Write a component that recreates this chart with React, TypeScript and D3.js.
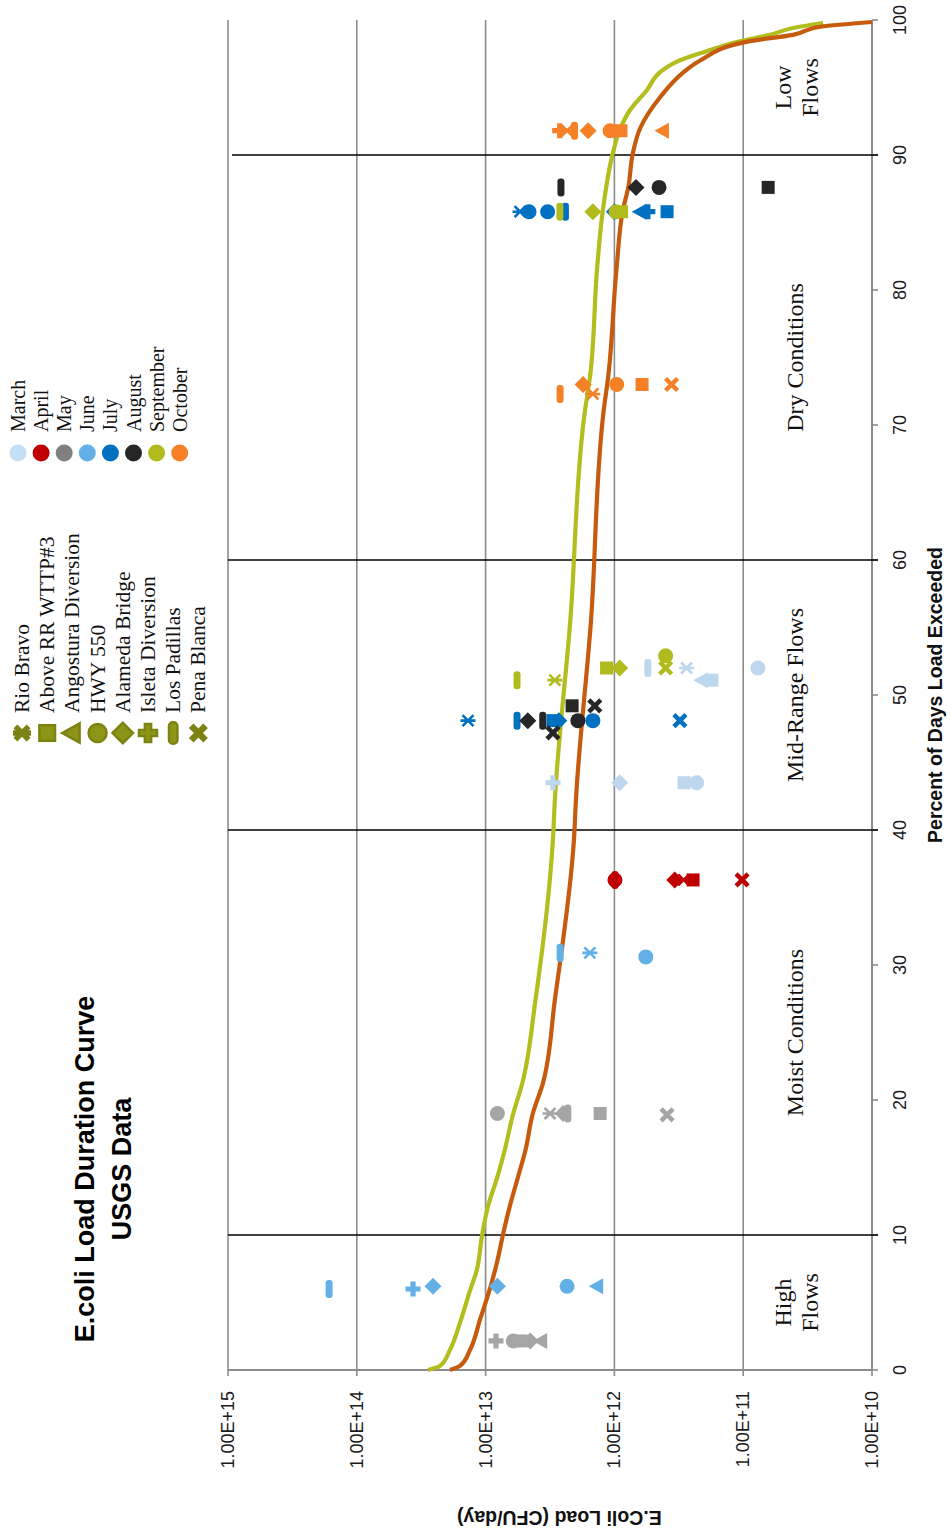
import React from "react";
import * as d3 from "d3";

// ---------- data ----------
const sites = ["Rio Bravo", "Above RR WTTP#3", "Angostura Diversion", "HWY 550", "Alameda Bridge", "Isleta Diversion", "Los Padillas", "Pena Blanca"];
const siteShapes = ["star", "square", "triangle", "circle", "diamond", "plus", "dash", "cross"];
const months = ["March", "April", "May", "June", "July", "August", "September", "October"];
const monthColors = ["#BDD7EE", "#C00000", "#A5A5A5", "#63B0E6", "#0070C0", "#262626", "#B2BB1E", "#F58025"];
const monthLegendColors = ["#C5DFF4", "#C00000", "#808080", "#63B0E6", "#0070C0", "#262626", "#B2BB1E", "#F58025"];

const loadTicks = [1e15, 1e14, 1e13, 1e12, 1e11, 1e10];
const loadTickLabels = ["1.00E+15", "1.00E+14", "1.00E+13", "1.00E+12", "1.00E+11", "1.00E+10"];
const pctTicks = [0, 10, 20, 30, 40, 50, 60, 70, 80, 90, 100];
const zoneBreaks = [10, 40, 60, 90];

// load duration curves (percent exceeded, load CFU/day)
const curveGreenPct = [0, 0.3, 1.5, 3.5, 5.9, 7.4, 9.85, 12.1, 14.3, 16.3, 19.0, 21.2, 27.4, 39.3, 42.2, 55.5, 71.1, 73.5, 81.7, 85.9, 90.1, 91.85, 93.3, 94.8, 96.15, 96.9, 97.6, 98.37, 98.9, 99.41, 99.78];
const curveGreenLoad = [2.8e13, 2.26e13, 1.89e13, 1.58e13, 1.32e13, 1.17e13, 1.07e13, 9.6e12, 8.1e12, 7.1e12, 6.1e12, 5.2e12, 4.1e12, 3.0e12, 2.9e12, 2.2e12, 1.69e12, 1.55e12, 1.36e12, 1.23e12, 1.03e12, 9.1e11, 7.6e11, 5.6e11, 4.4e11, 3.3e11, 2.05e11, 1.12e11, 6.2e10, 4.1e10, 2.4e10];
const curveOrangePct = [0, 0.3, 1.5, 3.8, 6.1, 8.1, 10.1, 12.1, 14.3, 16.3, 19.0, 21.2, 27.4, 39.3, 42.2, 55.5, 71.1, 73.5, 81.7, 85.9, 87.6, 90.1, 92.0, 94.3, 96.1, 97.0, 98.4, 98.9, 99.5, 99.85];
const curveOrangeLoad = [1.89e13, 1.58e13, 1.32e13, 1.1e13, 9.2e12, 8.1e12, 7.3e12, 6.5e12, 5.6e12, 4.9e12, 4.3e12, 3.6e12, 2.9e12, 2.06e12, 1.99e12, 1.52e12, 1.21e12, 1.12e12, 9.6e11, 8.6e11, 7.8e11, 7.2e11, 6.3e11, 4.4e11, 2.93e11, 2.16e11, 9.3e10, 4.1e10, 2.5e10, 1.0e10];

// samples: [site, percent of days exceeded, load]
type Sample = [string, number, number];
const marchSamples: Sample[] = [
  ["Isleta Diversion", 43.5, 3.0e12], ["Alameda Bridge", 43.5, 9.1e11], ["Above RR WTTP#3", 43.5, 2.88e11],
  ["Angostura Diversion", 43.5, 2.45e11], ["HWY 550", 43.5, 2.3e11],
  ["Los Padillas", 52.0, 5.5e11], ["Rio Bravo", 52.0, 2.75e11], ["Angostura Diversion", 51.1, 2.1e11],
  ["Above RR WTTP#3", 51.1, 1.75e11], ["HWY 550", 52.0, 7.7e10],
];
const aprilSamples: Sample[] = [
  ["HWY 550", 36.3, 9.9e11], ["Los Padillas", 36.3, 9.9e11], ["Alameda Bridge", 36.3, 3.4e11],
  ["Rio Bravo", 36.3, 2.9e11], ["Above RR WTTP#3", 36.3, 2.45e11], ["Pena Blanca", 36.3, 1.02e11],
];
const maySamples: Sample[] = [
  ["HWY 550", 19.0, 8.1e12], ["Rio Bravo", 19.0, 3.16e12], ["Alameda Bridge", 19.0, 2.5e12],
  ["Los Padillas", 19.0, 2.3e12], ["Above RR WTTP#3", 19.0, 1.29e12], ["Pena Blanca", 18.9, 3.9e11],
  ["Isleta Diversion", 2.15, 8.3e12], ["HWY 550", 2.15, 6.1e12], ["Above RR WTTP#3", 2.15, 5.3e12],
  ["Alameda Bridge", 2.15, 4.5e12], ["Angostura Diversion", 2.15, 3.7e12],
];
const juneSamples: Sample[] = [
  ["Los Padillas", 30.9, 2.64e12], ["Rio Bravo", 30.9, 1.55e12], ["HWY 550", 30.6, 5.7e11],
  ["Los Padillas", 6.0, 1.64e14], ["Isleta Diversion", 6.0, 3.66e13], ["Alameda Bridge", 6.2, 2.56e13],
  ["Alameda Bridge", 6.2, 8.1e12], ["HWY 550", 6.2, 2.33e12], ["Angostura Diversion", 6.2, 1.36e12],
];
const julySamples: Sample[] = [
  ["Rio Bravo", 85.8, 5.4e12], ["HWY 550", 85.8, 4.6e12], ["HWY 550", 85.8, 3.3e12],
  ["Los Padillas", 85.8, 2.4e12], ["Alameda Bridge", 85.8, 1.0e12], ["Angostura Diversion", 85.8, 6.3e11],
  ["Isleta Diversion", 85.8, 5.5e11], ["Above RR WTTP#3", 85.8, 3.9e11],
  ["Rio Bravo", 48.1, 1.37e13], ["Los Padillas", 48.1, 5.7e12], ["Alameda Bridge", 48.1, 2.7e12],
  ["Above RR WTTP#3", 48.1, 3.0e12], ["HWY 550", 48.1, 1.47e12], ["Pena Blanca", 48.1, 3.1e11],
];
const augustSamples: Sample[] = [
  ["Los Padillas", 87.6, 2.6e12], ["Alameda Bridge", 87.6, 6.8e11], ["HWY 550", 87.6, 4.5e11],
  ["Above RR WTTP#3", 87.6, 6.4e10],
  ["Alameda Bridge", 48.1, 4.7e12], ["Los Padillas", 48.1, 3.6e12], ["HWY 550", 48.1, 1.92e12],
  ["Above RR WTTP#3", 49.2, 2.13e12], ["Pena Blanca", 49.2, 1.42e12], ["Pena Blanca", 47.2, 3.0e12],
];
const septemberSamples: Sample[] = [
  ["Los Padillas", 85.8, 2.65e12], ["Alameda Bridge", 85.8, 1.47e12], ["HWY 550", 85.8, 9.7e11],
  ["Above RR WTTP#3", 85.8, 8.8e11],
  ["HWY 550", 52.9, 4.0e11], ["Above RR WTTP#3", 52.0, 1.15e12], ["Alameda Bridge", 52.0, 9.1e11],
  ["Pena Blanca", 52.0, 4.0e11], ["Los Padillas", 51.1, 5.7e12], ["Rio Bravo", 51.1, 2.9e12],
];
const octoberSamples: Sample[] = [
  ["Isleta Diversion", 91.8, 2.66e12], ["Rio Bravo", 91.8, 2.33e12], ["Los Padillas", 91.8, 2.04e12],
  ["Alameda Bridge", 91.8, 1.6e12], ["HWY 550", 91.8, 1.08e12], ["Above RR WTTP#3", 91.8, 8.9e11],
  ["Angostura Diversion", 91.8, 4.2e11],
  ["Alameda Bridge", 73.0, 1.75e12], ["HWY 550", 73.0, 9.6e11], ["Above RR WTTP#3", 73.0, 6.1e11],
  ["Pena Blanca", 73.0, 3.6e11], ["Los Padillas", 72.3, 2.64e12], ["Rio Bravo", 72.3, 1.47e12],
];
const monthSamples = [marchSamples, aprilSamples, maySamples, juneSamples, julySamples, augustSamples, septemberSamples, octoberSamples];

const zoneLabels: { lines: string[]; pct: number }[] = [
  { lines: ["High", "Flows"], pct: 5 },
  { lines: ["Moist Conditions"], pct: 25 },
  { lines: ["Mid-Range Flows"], pct: 50 },
  { lines: ["Dry Conditions"], pct: 75 },
  { lines: ["Low", "Flows"], pct: 95 },
];

// ---------- layout (unrotated frame: width 1537, height 947) ----------
const FW = 1537;
const SERIF = "'Liberation Serif', 'DejaVu Serif', serif";
const SANS = "'Liberation Sans', Arial, sans-serif";

const x = d3.scaleLinear().domain([0, 100]).range([167, 1517]);
const y = d3.scaleLog().domain([1e10, 1e15]).range([872, 228]);

function Marker({ shape, cx, cy, color, k = 1, stroke, sw = 0 }: any) {
  const t = `translate(${cx},${cy}) scale(${k})`;
  const st = stroke || color;
  const common = { fill: color, stroke: st, strokeWidth: sw / k };
  switch (shape) {
    case "circle":
      return <circle transform={t} r={7.5} {...common} />;
    case "square":
      return <rect transform={t} x={-6.5} y={-6.5} width={13} height={13} {...common} />;
    case "triangle":
      return <path transform={t} d="M0,-8.5L8,6L-8,6Z" {...common} />;
    case "diamond":
      return <path transform={t} d="M0,-8.5L8.5,0L0,8.5L-8.5,0Z" {...common} />;
    case "plus":
      return <path transform={t} d="M-2.6,-7.5H2.6V-2.6H7.5V2.6H2.6V7.5H-2.6V2.6H-7.5V-2.6H-2.6Z" {...common} />;
    case "dash":
      return <rect transform={t} x={-9} y={-3.5} width={18} height={7} rx={3.2} {...common} />;
    case "cross":
      return <path transform={t} d="M-6,-6L6,6M-6,6L6,-6" fill="none" stroke={st} strokeWidth={(sw || 4.5 * k) / k} />;
    case "star":
      return <path transform={t} d="M-5.5,-5.5L5.5,5.5M-5.5,5.5L5.5,-5.5M0,-7.5L0,7.5" fill="none" stroke={st} strokeWidth={(sw || 2.6 * k) / k} />;
  }
  return null;
}

export default function App() {
  const line = d3.line<[number, number]>().x((d) => x(d[0])).y((d) => y(d[1])).curve(d3.curveMonotoneX);
  const green = curveGreenPct.map((p, i) => [p, curveGreenLoad[i]] as [number, number]);
  const orange = curveOrangePct.map((p, i) => [p, curveOrangeLoad[i]] as [number, number]);
  const gridCol = "#8C8C8C";
  const legendFill = "#8D9519";
  const legendStroke = "#7C8312";

  return (
    <svg width={947} height={1537} style={{ position: "absolute", left: 0, top: 0, background: "#fff" }}>
      <g transform={`translate(0,${FW}) rotate(-90)`}>
        {/* gridlines */}
        {loadTicks.slice(0, 5).map((v) => (
          <line key={v} x1={x(0)} x2={x(100)} y1={y(v)} y2={y(v)} stroke={gridCol} strokeWidth={1.6} />
        ))}
        {/* axes */}
        <line x1={x(0)} x2={x(0)} y1={y(1e15)} y2={y(1e10)} stroke={gridCol} strokeWidth={2} />
        <line x1={x(0)} x2={x(100)} y1={y(1e10)} y2={y(1e10)} stroke={gridCol} strokeWidth={2} />
        {loadTicks.map((v, i) => (
          <g key={v}>
            <line x1={x(0) - 6} x2={x(0)} y1={y(v)} y2={y(v)} stroke={gridCol} strokeWidth={1.6} />
            <text x={146} y={y(v)} textAnchor="end" dominantBaseline="central" fontFamily={SANS} fontSize={18} fill="#1a1a1a">
              {loadTickLabels[i]}
            </text>
          </g>
        ))}
        {pctTicks.map((p) => (
          <g key={p}>
            <line x1={x(p)} x2={x(p)} y1={y(1e10)} y2={y(1e10) + 6} stroke={gridCol} strokeWidth={1.6} />
            <text x={x(p)} y={900} textAnchor="middle" dominantBaseline="central" fontFamily={SANS} fontSize={18} fill="#1a1a1a">
              {p}
            </text>
          </g>
        ))}
        {/* flow zone dividers */}
        {zoneBreaks.map((p) => (
          <line key={p} x1={x(p)} x2={x(p)} y1={y(1e15) + (p === 90 ? 4 : 0)} y2={y(1e10) + 6} stroke="#000" strokeWidth={1.3} />
        ))}
        {/* zone labels */}
        {zoneLabels.map((z) => (
          <text key={z.pct} x={x(z.pct)} textAnchor="middle" fontFamily={SERIF} fontSize={24} fill="#111">
            {z.lines.map((l, i) => (
              <tspan key={i} x={x(z.pct)} y={z.lines.length === 1 ? 803 : 791 + i * 27}>
                {l}
              </tspan>
            ))}
          </text>
        ))}
        {/* curves */}
        <path d={line(green) || ""} fill="none" stroke="#B3BD1E" strokeWidth={4.2} strokeLinejoin="round" />
        <path d={line(orange) || ""} fill="none" stroke="#C65B0E" strokeWidth={4.2} strokeLinejoin="round" />
        {/* samples */}
        {monthSamples.map((arr, mi) =>
          arr.map((s, j) => (
            <Marker key={`${mi}-${j}`} shape={siteShapes[sites.indexOf(s[0])]} cx={x(s[1])} cy={y(s[2])} color={monthColors[mi]} />
          ))
        )}
        {/* title */}
        <text x={368} y={94} textAnchor="middle" fontFamily={SANS} fontWeight="bold" fontSize={27} fill="#000">
          E.coli Load Duration Curve
        </text>
        <text x={368} y={131} textAnchor="middle" fontFamily={SANS} fontWeight="bold" fontSize={27} fill="#000">
          USGS Data
        </text>
        {/* axis titles */}
        <text transform={`translate(19,${y(1e12) - 55}) rotate(-90)`} textAnchor="middle" dominantBaseline="central" fontFamily={SANS} fontWeight="bold" fontSize={19.5} fill="#111">
          E.Coli Load (CFU/day)
        </text>
        <text x={x(50)} y={935} textAnchor="middle" dominantBaseline="central" fontFamily={SANS} fontWeight="bold" fontSize={19.5} fill="#111">
          Percent of Days Load Exceeded
        </text>
        {/* site legend */}
        {sites.map((s, i) => (
          <g key={s}>
            <Marker shape={siteShapes[i]} cx={804} cy={22 + i * 25.2} color={legendFill} stroke={legendStroke} k={1.2} sw={siteShapes[i] === "cross" ? 6.5 : siteShapes[i] === "star" ? 5.5 : 2.5} />
            <text x={824} y={22 + i * 25.2} dominantBaseline="central" fontFamily={SERIF} fontSize={21.5} fill="#111">
              {s}
            </text>
          </g>
        ))}
        {/* month legend */}
        {months.map((m, i) => (
          <g key={m}>
            <circle cx={1084} cy={18 + i * 23.1} r={8.5} fill={monthLegendColors[i]} />
            <text x={1105} y={18 + i * 23.1} dominantBaseline="central" fontFamily={SERIF} fontSize={20} fill="#111">
              {m}
            </text>
          </g>
        ))}
      </g>
    </svg>
  );
}
